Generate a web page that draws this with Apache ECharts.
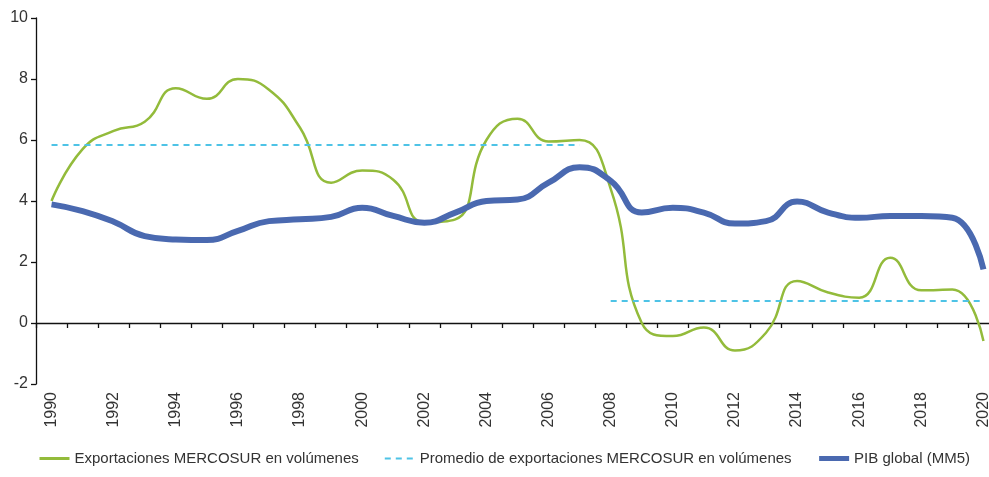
<!DOCTYPE html>
<html>
<head>
<meta charset="utf-8">
<script src="https://cdn.jsdelivr.net/npm/echarts@6/dist/echarts.min.js"></script>
<style>
  html, body { margin: 0; padding: 0; background: #fff; }
  #main { width: 989px; height: 477px; }
</style>
</head>
<body>
<div id="main"></div>
<script>
var years = [];
for (var y = 1990; y <= 2020; y++) years.push(String(y));

var exportaciones = [4.0, 5.7, 6.3, 6.6, 7.7, 7.35, 8.0, 7.65, 6.4, 4.6,
  5.0, 4.7, 3.3, 3.4, 6.0, 6.7, 5.95, 6.0, 4.4, 0.0,
  -0.43, -0.15, -0.9, -0.32, 1.38, 1.0, 0.83, 2.14, 1.07, 1.1, -0.59];

var pibGlobal = [3.89, 3.67, 3.32, 2.85, 2.74, 2.72, 3.02, 3.34, 3.4, 3.48,
  3.78, 3.51, 3.29, 3.62, 4.0, 4.05, 4.6, 5.11, 4.66, 3.62,
  3.78, 3.62, 3.26, 3.34, 3.98, 3.62, 3.45, 3.51, 3.51, 3.45, 1.76];

var promedio1 = 5.84; // 1990-2007
var promedio2 = 0.72; // 2008-2020

var avgA = years.map(function (yr) { return +yr <= 2007 ? promedio1 : null; });
var avgB = years.map(function (yr) { return +yr >= 2008 ? promedio2 : null; });

var font = '"Liberation Sans", Arial, sans-serif';
var textColor = '#333';

var myChart = echarts.init(document.getElementById('main'));
myChart.setOption({
  animation: false,
  textStyle: { fontFamily: font },
  grid: { left: 36, width: 963, top: 18, bottom: 93, containLabel: false, outerBoundsMode: 'none' },
  legend: {
    bottom: 6,
    left: 33,
    itemWidth: 30,
    itemHeight: 10,
    itemGap: 25,
    itemStyle: { opacity: 0 },
    textStyle: { fontFamily: font, fontSize: 15, color: textColor },
    data: [
      { name: 'Exportaciones MERCOSUR en volúmenes', lineStyle: { width: 3 } },
      { name: 'Promedio de exportaciones MERCOSUR en volúmenes', lineStyle: { width: 2 } },
      { name: 'PIB global (MM5)', lineStyle: { width: 5 } }
    ]
  },
  xAxis: [{
    type: 'category',
    data: years,
    position: 'bottom',
    axisLine: { show: false, onZero: false },
    axisTick: { show: false },
    axisLabel: { rotate: 90, interval: 1, margin: 8, fontSize: 16, color: textColor, fontFamily: font }
  }, {
    type: 'category',
    data: years,
    position: 'bottom',
    axisLine: { onZero: true, lineStyle: { color: '#111', width: 1.3 } },
    axisTick: { show: true, interval: 0, length: 5, lineStyle: { color: '#111', width: 1.3 } },
    axisLabel: { show: false }
  }],
  yAxis: {
    type: 'value',
    min: -2, max: 10, interval: 2,
    axisLine: { show: true, lineStyle: { color: '#111', width: 1.3 } },
    axisTick: { show: true, length: 5, lineStyle: { color: '#111', width: 1.3 } },
    splitLine: { show: false },
    axisLabel: { fontSize: 16, color: textColor, margin: 8, fontFamily: font }
  },
  series: [{
    name: 'Exportaciones MERCOSUR en volúmenes',
    type: 'line', smooth: 0.5, symbol: 'none', xAxisIndex: 1,
    data: exportaciones,
    itemStyle: { color: '#93BB3B' },
    lineStyle: { color: '#93BB3B', width: 2.5 }
  }, {
    name: 'Promedio de exportaciones MERCOSUR en volúmenes',
    type: 'line', symbol: 'none', xAxisIndex: 1,
    data: avgA,
    itemStyle: { color: '#4EC3E6' },
    lineStyle: { color: '#4EC3E6', width: 2, type: [6, 5] }
  }, {
    name: 'Promedio de exportaciones MERCOSUR en volúmenes',
    type: 'line', symbol: 'none', xAxisIndex: 1,
    data: avgB,
    itemStyle: { color: '#4EC3E6' },
    lineStyle: { color: '#4EC3E6', width: 2, type: [6, 5] }
  }, {
    name: 'PIB global (MM5)',
    type: 'line', smooth: 0.5, symbol: 'none', xAxisIndex: 1,
    data: pibGlobal,
    itemStyle: { color: '#4A69B0' },
    lineStyle: { color: '#4A69B0', width: 6 }
  }]
});
</script>
</body>
</html>
